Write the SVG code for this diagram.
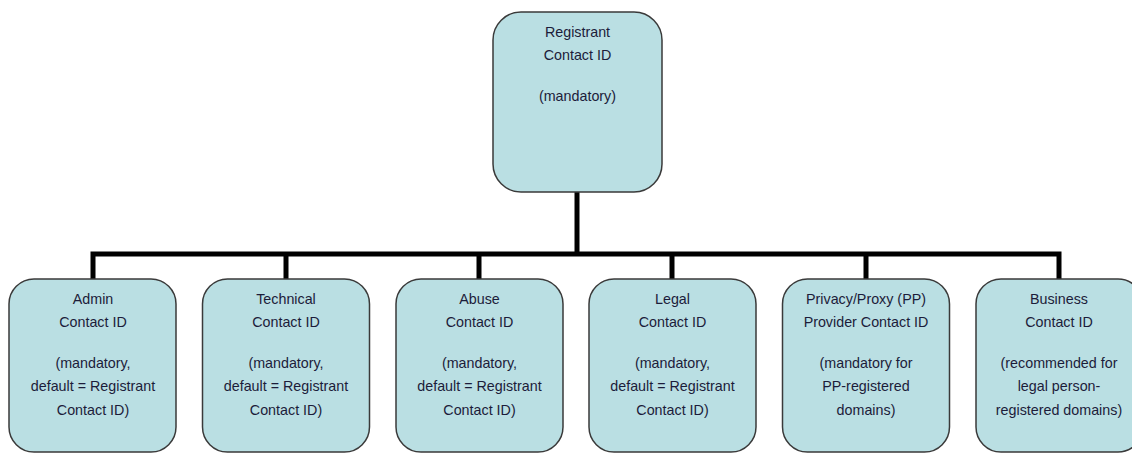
<svg xmlns="http://www.w3.org/2000/svg" width="1132" height="454" viewBox="0 0 1132 454">
<style>
.box{fill:#badfe3;stroke:#3a3a3a;stroke-width:1.5}
.t{font-family:"Liberation Sans",Arial,sans-serif;font-size:14.3px;fill:#1c1c3a;text-anchor:middle}
.c{fill:none;stroke:#000;stroke-width:5;stroke-linejoin:miter}
</style>
<rect width="1132" height="454" fill="#fff"/>
<g id="connectors">
<path class="c" d="M577 192 V254"/>
<path class="c" d="M93 279 V254 H1059 V279"/>
<path class="c" d="M286 254 V279 M479 254 V279 M672 254 V279 M866 254 V279"/>
</g>
<g id="registrant">
<rect class="box" x="493" y="12" width="169" height="180" rx="28"/>
<text class="t" x="577.5" y="37">Registrant</text>
<text class="t" x="577.5" y="60">Contact ID</text>
<text class="t" x="577.5" y="101">(mandatory)</text>
</g>
<g id="admin">
<rect class="box" x="9" y="279" width="167" height="173" rx="25"/>
<text class="t" x="93" y="304">Admin</text>
<text class="t" x="93" y="327">Contact ID</text>
<text class="t" x="93" y="368">(mandatory,</text>
<text class="t" x="93" y="391">default = Registrant</text>
<text class="t" x="93" y="415">Contact ID)</text>
</g>
<g id="technical">
<rect class="box" x="202.5" y="279" width="167" height="173" rx="25"/>
<text class="t" x="286" y="304">Technical</text>
<text class="t" x="286" y="327">Contact ID</text>
<text class="t" x="286" y="368">(mandatory,</text>
<text class="t" x="286" y="391">default = Registrant</text>
<text class="t" x="286" y="415">Contact ID)</text>
</g>
<g id="abuse">
<rect class="box" x="396" y="279" width="167" height="173" rx="25"/>
<text class="t" x="479.5" y="304">Abuse</text>
<text class="t" x="479.5" y="327">Contact ID</text>
<text class="t" x="479.5" y="368">(mandatory,</text>
<text class="t" x="479.5" y="391">default = Registrant</text>
<text class="t" x="479.5" y="415">Contact ID)</text>
</g>
<g id="legal">
<rect class="box" x="589" y="279" width="167" height="173" rx="25"/>
<text class="t" x="672.5" y="304">Legal</text>
<text class="t" x="672.5" y="327">Contact ID</text>
<text class="t" x="672.5" y="368">(mandatory,</text>
<text class="t" x="672.5" y="391">default = Registrant</text>
<text class="t" x="672.5" y="415">Contact ID)</text>
</g>
<g id="privacy">
<rect class="box" x="782.5" y="279" width="167" height="173" rx="25"/>
<text class="t" x="866" y="304">Privacy/Proxy (PP)</text>
<text class="t" x="866" y="327">Provider Contact ID</text>
<text class="t" x="866" y="368">(mandatory for</text>
<text class="t" x="866" y="391">PP-registered</text>
<text class="t" x="866" y="415">domains)</text>
</g>
<g id="business">
<rect class="box" x="976" y="279" width="167" height="173" rx="25"/>
<text class="t" x="1059" y="304">Business</text>
<text class="t" x="1059" y="327">Contact ID</text>
<text class="t" x="1059" y="368">(recommended for</text>
<text class="t" x="1059" y="391">legal person-</text>
<text class="t" x="1059" y="415">registered domains)</text>
</g>
</svg>
